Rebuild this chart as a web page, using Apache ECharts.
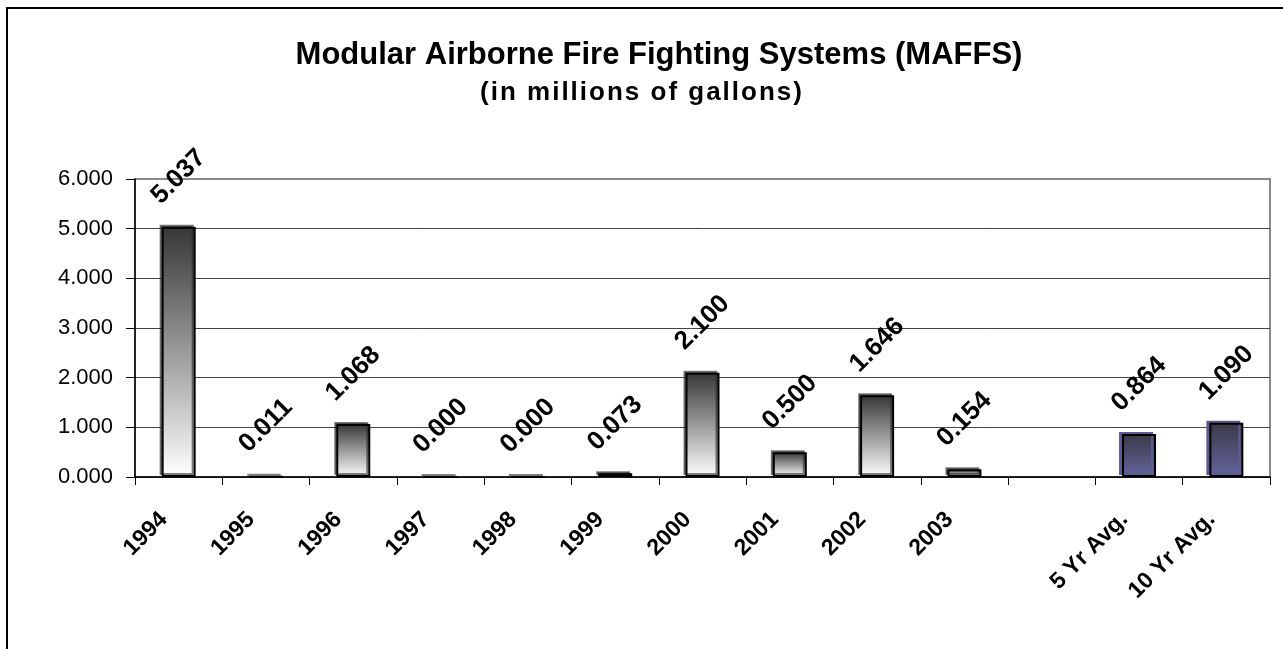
<!DOCTYPE html>
<html>
<head>
<meta charset="utf-8">
<title>MAFFS</title>
<script src="https://cdn.jsdelivr.net/npm/echarts@6/dist/echarts.min.js"></script>
<style>
  html, body { margin: 0; padding: 0; background: #fff; }
  #frame {
    position: absolute; left: 6px; top: 7px; width: 1300px; height: 700px;
    border-left: 2px solid #000; border-top: 2px solid #000;
  }
  #chart { position: absolute; left: 0; top: 0; width: 1283px; height: 649px; }
</style>
</head>
<body>
<div id="frame"></div>
<div id="chart"></div>
<script>
// categories, blank slot before the averages
var categories = ['1994', '1995', '1996', '1997', '1998', '1999', '2000', '2001', '2002', '2003', '', '5 Yr Avg.', '10 Yr Avg.'];
// gallons (millions) per year
var yearValues = [5.037, 0.011, 1.068, 0.000, 0.000, 0.073, 2.100, 0.500, 1.646, 0.154, null, null, null];
// averages
var avgValues = [null, null, null, null, null, null, null, null, null, null, null, 0.864, 1.090];
var yTicks = [0, 1, 2, 3, 4, 5, 6];

var titleText = 'Modular Airborne Fire Fighting Systems (MAFFS)';
var subText = '(in millions of gallons)';

var font = 'Liberation Sans, Arial, sans-serif';

// the subtitle in the original is drawn slightly loose
function spaced(s) {
  return s.split('').map(function (ch) { return '{c|' + ch + '}'; }).join('');
}

var labelOpt = {
  show: true,
  position: 'top',
  distance: 50,
  rotate: 45,
  align: 'center',
  verticalAlign: 'middle',
  fontFamily: font,
  fontWeight: 'bold',
  fontSize: 26,
  color: '#000',
  formatter: function (p) { return p.value == null ? '' : p.value.toFixed(3); }
};

var chart = echarts.init(document.getElementById('chart'));
chart.setOption({
  animation: false,
  title: [
    {
      text: titleText,
      left: 654, top: 35, textAlign: 'center',
      textStyle: { fontFamily: font, fontWeight: 'bold', fontSize: 31, color: '#000' }
    },
    {
      text: spaced(subText),
      left: 636, top: 75, textAlign: 'center',
      textStyle: {
        fontFamily: font, fontWeight: 'bold', fontSize: 26, color: '#000',
        rich: { c: { fontFamily: font, fontWeight: 'bold', fontSize: 26, color: '#000', padding: [0, 1, 0, 1] } }
      }
    }
  ],
  grid: {
    left: 135, right: 13, top: 179, bottom: 172,
    show: true, borderColor: '#8a8a8a', borderWidth: 2, backgroundColor: '#fff'
  },
  xAxis: {
    type: 'category',
    data: categories,
    axisLine: { lineStyle: { color: '#000', width: 1.5 } },
    axisTick: { show: true, length: 8, lineStyle: { color: '#000' } },
    axisLabel: {
      rotate: 45, margin: 24, padding: [0, 21, 0, 0], interval: 0,
      fontFamily: font, fontWeight: 'bold', fontSize: 23, color: '#000'
    }
  },
  yAxis: {
    type: 'value',
    min: yTicks[0], max: yTicks[yTicks.length - 1], interval: 1,
    axisLine: { show: true, lineStyle: { color: '#000', width: 1.5 } },
    axisTick: { show: true, length: 9, lineStyle: { color: '#000' } },
    splitLine: { showMaxLine: false, lineStyle: { color: '#444', width: 1 } },
    axisLabel: {
      margin: 22, fontFamily: font, fontSize: 22, color: '#000',
      formatter: function (v) { return v.toFixed(3); }
    }
  },
  series: [
    {
      type: 'bar',
      data: yearValues,
      barWidth: 34,
      itemStyle: {
        color: new echarts.graphic.LinearGradient(0, 0, 0, 1, [
          { offset: 0, color: '#363636' },
          { offset: 1, color: '#ffffff' }
        ]),
        borderColor: '#000', borderWidth: 2,
        shadowColor: 'rgba(40,40,40,0.6)', shadowOffsetX: -2, shadowOffsetY: -2, shadowBlur: 0
      },
      label: labelOpt
    },
    {
      type: 'bar',
      data: avgValues,
      barWidth: 34,
      barGap: '-100%',
      itemStyle: {
        color: new echarts.graphic.LinearGradient(0, 0, 0, 1, [
          { offset: 0, color: '#3a3a46' },
          { offset: 1, color: '#64649e' }
        ]),
        borderColor: '#000', borderWidth: 2,
        shadowColor: '#5c5c90', shadowOffsetX: -3, shadowOffsetY: -2, shadowBlur: 0
      },
      label: labelOpt
    }
  ]
});
</script>
</body>
</html>
